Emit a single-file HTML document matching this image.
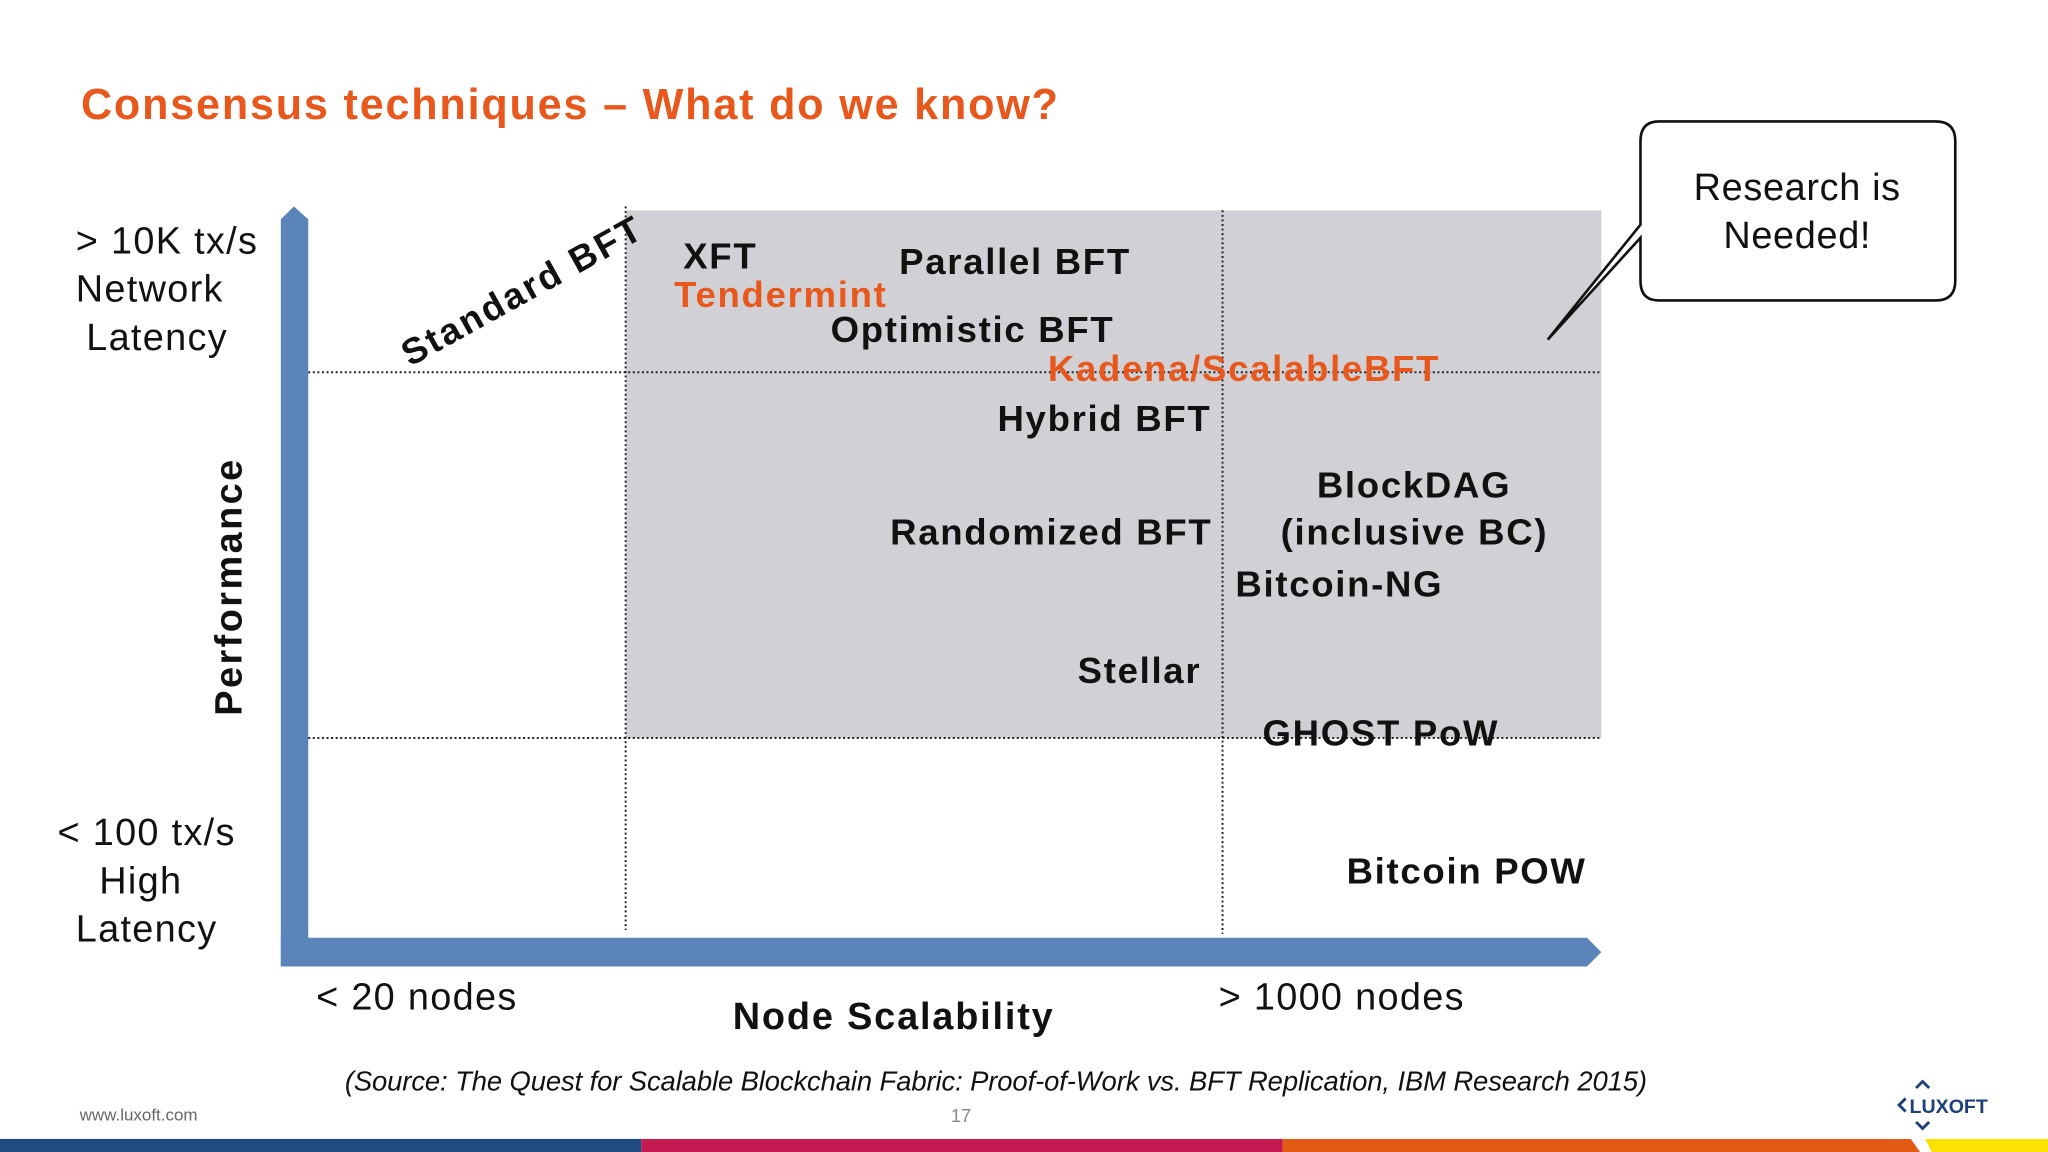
<!DOCTYPE html>
<html><head><meta charset="utf-8"><style>
html,body{margin:0;padding:0;background:#fff;overflow:hidden}
svg{display:block}
text{font-family:"Liberation Sans",sans-serif}
</style></head><body>
<svg width="2048" height="1152" viewBox="0 0 1568 882" xmlns="http://www.w3.org/2000/svg">
<text x="62" y="91" font-size="33" font-weight="bold" fill="#e8581c" textLength="748">Consensus techniques – What do we know?</text>
<rect x="479" y="161" width="747" height="404" fill="#d1d1d5"/>
<g stroke="#222" stroke-width="1.5" stroke-dasharray="1.5,2">
<line x1="479" y1="158" x2="479" y2="712"/>
<line x1="936" y1="161" x2="936" y2="715"/>
<line x1="236" y1="285" x2="1226" y2="285"/>
<line x1="236" y1="565" x2="1226" y2="565"/>
</g>
<polygon points="215,740 215,168 225,158 236,168 236,740" fill="#5b84bb"/>
<polygon points="215,718 1215,718 1226,729 1215,740 215,740" fill="#5b84bb"/>
<g id="labels"></g>
<text transform="translate(314,281) rotate(-29)" font-size="28" font-weight="bold" fill="#111" textLength="205">Standard BFT</text>
<g font-size="29" fill="#111" letter-spacing="1">
<text x="58" y="194">&gt; 10K tx/s</text><text x="58" y="231">Network</text><text x="66" y="268">Latency</text>
<text x="44" y="647">&lt; 100 tx/s</text><text x="76" y="684">High</text><text x="58" y="721">Latency</text>
</g>
<text transform="translate(185,548) rotate(-90)" font-size="29" font-weight="bold" fill="#111" textLength="196">Performance</text>
<text x="242" y="773" font-size="29" fill="#111" letter-spacing="1">&lt; 20 nodes</text>
<text x="561" y="788" font-size="29" font-weight="bold" fill="#111" textLength="245">Node Scalability</text>
<text x="933" y="773" font-size="29" fill="#111" letter-spacing="1">&gt; 1000 nodes</text>
<g>
<path d="M1270,93 H1482 Q1497,93 1497,108 V215 Q1497,230 1482,230 H1270 Q1256,230 1256,215 V182 L1185,260 L1256,172 V108 Q1256,93 1270,93 Z" fill="#fff" stroke="#111" stroke-width="2"/>
<text x="1376" y="153" font-size="29" text-anchor="middle" fill="#111" letter-spacing="0.5">Research is</text>
<text x="1376" y="190" font-size="29" text-anchor="middle" fill="#111" letter-spacing="0.5">Needed!</text>
</g>
<text x="264" y="835" font-size="21" font-style="italic" fill="#111" textLength="997">(Source: The Quest for Scalable Blockchain Fabric: Proof-of-Work vs. BFT Replication, IBM Research 2015)</text>
<text x="61" y="858" font-size="13" fill="#666">www.luxoft.com</text>
<text x="728" y="859" font-size="14" fill="#888">17</text>
<g>
<text x="1462" y="852" font-size="15" font-weight="bold" fill="#1d3f7a">LUXOFT</text>
<path d="M1459,841 l-5,5 l5,5 M1467,833 l5,-5 l5,5 M1467,859 l5,5 l5,-5" fill="none" stroke="#1d3f7a" stroke-width="2.2"/>
</g>
<rect x="0" y="872" width="491" height="10" fill="#1f4a82"/>
<rect x="491" y="872" width="491" height="10" fill="#c41a52"/>
<polygon points="982,872 1463,872 1470,882 982,882" fill="#e15b14"/>
<polygon points="1474,872 1568,872 1568,882 1479,882" fill="#fde100"/>
</svg>
<script>
// Data: technique labels placed by scalability (0-100) and performance (0-100)
const names = ["XFT","Tendermint","Parallel BFT","Optimistic BFT","Kadena/ScalableBFT","Hybrid BFT","BlockDAG","(inclusive BC)","Randomized BFT","Bitcoin-NG","Stellar","GHOST PoW","Bitcoin POW"];
const scalability = [29,28.3,45.7,40.4,57.2,53.3,78,75.2,45,71.7,59.5,73.8,80.3];
const performance = [92.3,87.2,91.6,82.6,77.4,70.8,62,55.8,55.8,48.9,37.5,29.2,11];
const highlight = [0,1,0,0,1,0,0,0,0,0,0,0,0];
const xPx = v => 236 + v / 100 * 990;
const yPx = v => 740 - v / 100 * 579;
const g = document.getElementById('labels');
names.forEach((n, i) => {
  const t = document.createElementNS('http://www.w3.org/2000/svg', 'text');
  t.setAttribute('x', xPx(scalability[i]));
  t.setAttribute('y', yPx(performance[i]));
  t.setAttribute('font-size', '28');
  t.setAttribute('font-weight', 'bold');
  t.setAttribute('letter-spacing', '1.3');
  t.setAttribute('fill', highlight[i] ? '#e8581c' : '#111');
  t.textContent = n;
  
  
  g.appendChild(t);
});
</script>
</body></html>
